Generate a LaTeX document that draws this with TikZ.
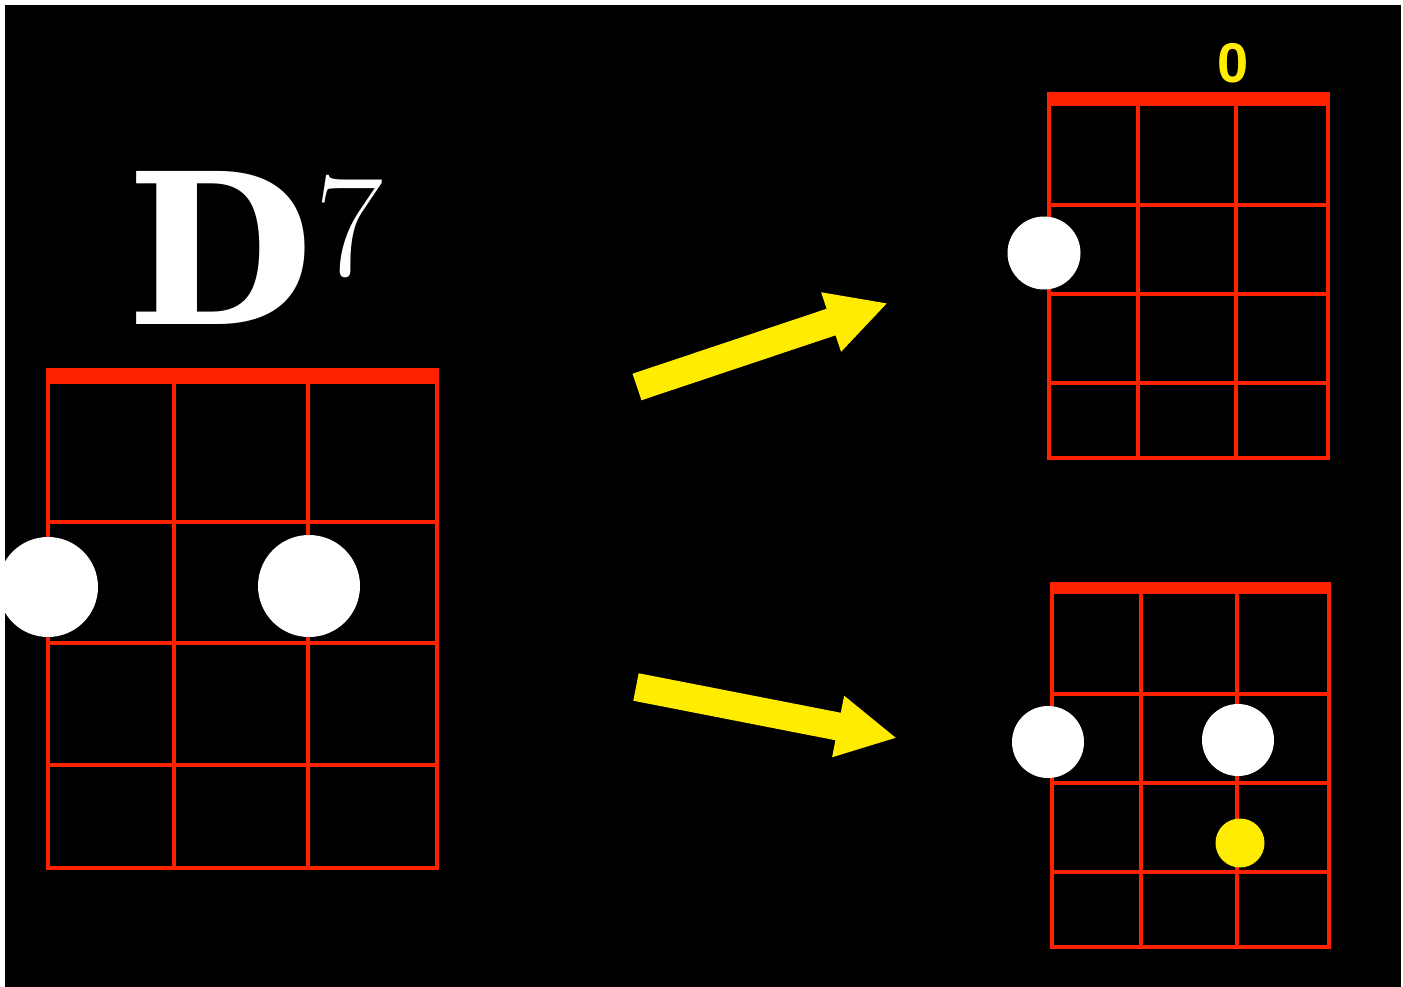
\documentclass[tikz,border=0pt]{standalone}
\usepackage{fontspec}
\usepackage{xcolor}
\usepackage{tikz}
\usetikzlibrary{arrows.meta,positioning}
\newfontfamily\chordfont{DejaVu Serif}
\newfontfamily\fingerfont{Liberation Sans}
\definecolor{ukred}{RGB}{255,34,0}
\definecolor{ukyellow}{RGB}{255,236,0}
\tikzset{
  ukstring/.style={draw=ukred, line width=4pt, line cap=rect},
  ukfret/.style={draw=ukred, line width=4pt, line cap=rect},
  uknut/.style={fill=ukred},
  ukfinger/.style={circle, fill=white, inner sep=0pt},
  ukextra/.style={circle, fill=ukyellow, inner sep=0pt},
  uktitle/.style={text=white, inner sep=0pt, anchor=base west},
  ukopen/.style={text=ukyellow, inner sep=0pt, anchor=base, font=\fingerfont\bfseries\fontsize{56}{56}\selectfont},
  ukarrow/.style={draw=ukyellow, line width=28pt, -{Triangle[length=60pt,width=58pt]}}
}
\begin{document}
\begin{tikzpicture}[x=1pt,y=-1pt]
\useasboundingbox (0,0) rectangle (1403,987);
\fill[white] (0,0) rectangle (1403,987);
\fill[black] (5,5) rectangle (1401,987);

% chord name
\node[uktitle,font=\chordfont\bfseries\fontsize{210}{210}\selectfont] (chordD) at (126,324) {\scalebox{1.03}[1]{D}};
\node[uktitle,font=\fontsize{148}{148}\selectfont] (chordseven) at (315,275) {7};

% full D7 chord box
\begin{scope}
  \foreach \x in {48,174,308,437} \draw[ukstring] (\x,383) -- (\x,868);
  \foreach \y in {522,643,765,868} \draw[ukfret] (48,\y) -- (437,\y);
  \fill[uknut] (46,368) rectangle (439,384);
  \node[ukfinger,minimum size=100pt] (lf1) at (48,587) {};
  \node[ukfinger,minimum size=102pt] (lf2) at (309,586) {};
\end{scope}

% upper variant
\begin{scope}
  \node[ukopen] (open) at (1233,83) {0};
  \foreach \x in {1049,1138,1236,1328} \draw[ukstring] (\x,105) -- (\x,458);
  \foreach \y in {205,294,383,458} \draw[ukfret] (1049,\y) -- (1328,\y);
  \fill[uknut] (1047,92) rectangle (1330,106);
  \node[ukfinger,minimum size=73pt] (uf1) at (1044,253) {};
\end{scope}

% lower variant
\begin{scope}
  \foreach \x in {1052,1141,1237,1329} \draw[ukstring] (\x,593) -- (\x,947);
  \foreach \y in {694,783,872,947} \draw[ukfret] (1052,\y) -- (1329,\y);
  \fill[uknut] (1050,582) rectangle (1331,594);
  \node[ukfinger,minimum size=72pt] (bf1) at (1048,742) {};
  \node[ukfinger,minimum size=72pt] (bf2) at (1238,740) {};
  \node[ukextra,minimum size=49pt] (bf3) at (1240,843) {};
\end{scope}

% arrows
\coordinate (upstart) at (637,387);
\coordinate (upend) at (888,303);
\coordinate (downstart) at (636,687);
\coordinate (downend) at (897,738);
\draw[ukarrow] (upstart) -- (upend);
\draw[ukarrow] (downstart) -- (downend);
\end{tikzpicture}
\end{document}
